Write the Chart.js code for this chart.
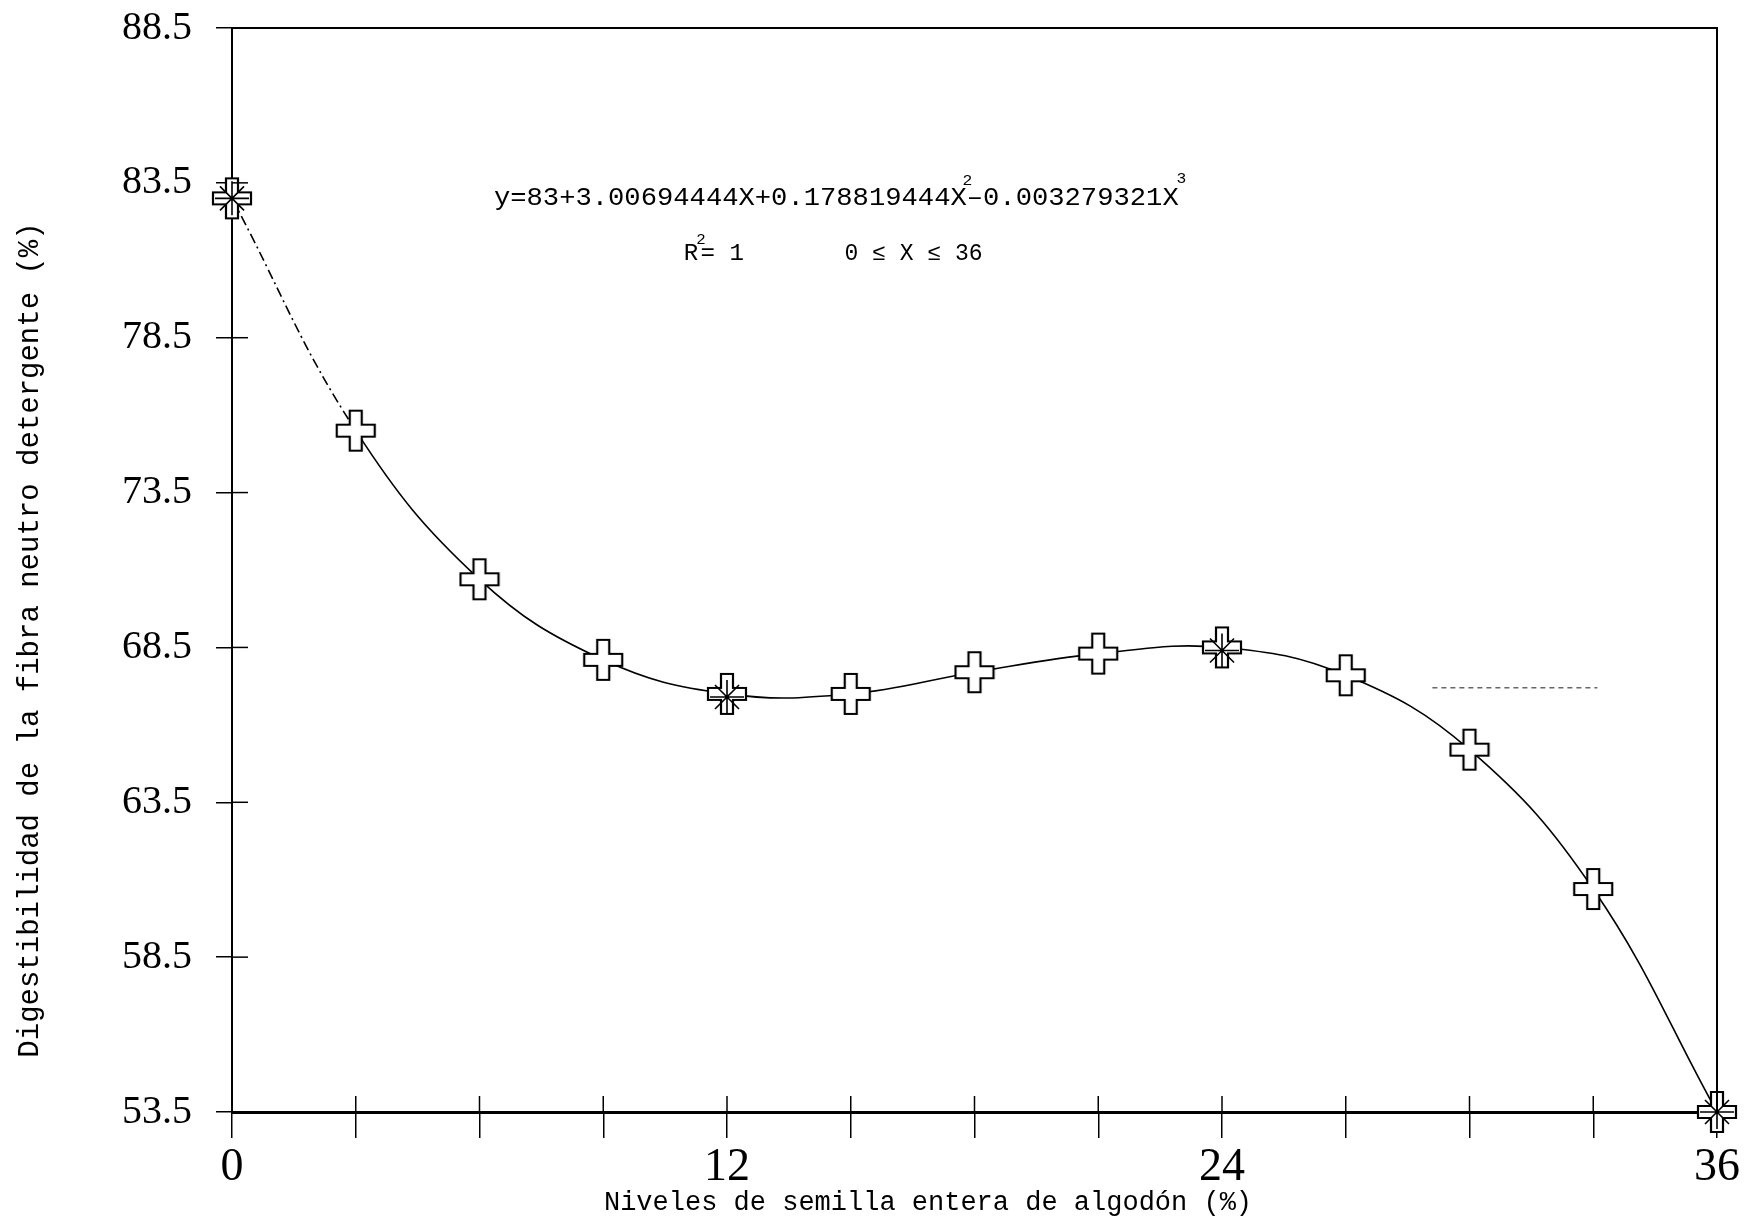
<!DOCTYPE html>
<html>
<head>
<meta charset="UTF-8">
<title>Digestibilidad FND</title>
<script src="https://cdn.jsdelivr.net/npm/chart.js"></script>
<style>
	html, body { margin: 0; padding: 0; background: #fff; }
	#chartArea { width: 1750px; height: 1219px; }
</style>
</head>
<body>
<div id="chartArea">
	<canvas id="myChart" width="1750" height="1219"></canvas>
</div>
<script>
// niveles de semilla (%) y digestibilidad
var niveles = [0, 3, 6, 9, 12, 15, 18, 21, 24, 27, 30, 33, 36];
var dfnEstimada = [83.0, 75.5, 70.7, 68.1, 67.0, 67.0, 67.7, 68.3, 68.5, 67.6, 65.2, 60.7, 53.5];
var nivelesObs = [0, 12, 24, 36];
var dfnObservada = [83.0, 66.9, 68.4, 53.5];
var yTicks = [53.5, 58.5, 63.5, 68.5, 73.5, 78.5, 83.5, 88.5];
var xTicks = [0, 3, 6, 9, 12, 15, 18, 21, 24, 27, 30, 33, 36];
var xEtiquetas = [0, 12, 24, 36];
// trazo suelto punteado a la derecha
var trazoX = [29.1, 33.1];
var trazoY = [67.2, 67.2];

function pares(xs, ys) {
	return xs.map(function(x, i) { return { x: x, y: ys[i] }; });
}

// cruz hueca como marcador
function cruzHueca() {
	var c = document.createElement('canvas');
	var w = 38, h = 40, t = 12;
	c.width = w + 4; c.height = h + 4;
	var g = c.getContext('2d');
	var ox = 2, oy = 2, a = (w - t) / 2, b = (h - t) / 2;
	g.beginPath();
	g.moveTo(ox + a, oy);
	g.lineTo(ox + a + t, oy);
	g.lineTo(ox + a + t, oy + b);
	g.lineTo(ox + w, oy + b);
	g.lineTo(ox + w, oy + b + t);
	g.lineTo(ox + a + t, oy + b + t);
	g.lineTo(ox + a + t, oy + h);
	g.lineTo(ox + a, oy + h);
	g.lineTo(ox + a, oy + b + t);
	g.lineTo(ox, oy + b + t);
	g.lineTo(ox, oy + b);
	g.lineTo(ox + a, oy + b);
	g.closePath();
	g.fillStyle = '#fff';
	g.fill();
	g.lineWidth = 2.2;
	g.strokeStyle = '#000';
	g.stroke();
	return c;
}

function texto(ctx, s, x, y, font, align) {
	ctx.save();
	ctx.font = font;
	ctx.textAlign = align || 'left';
	ctx.textBaseline = 'middle';
	ctx.fillText(s, x, y);
	ctx.restore();
}

var textos = {
	id: 'textos',
	afterDraw: function(chart) {
		var ctx = chart.ctx;
		var ca = chart.chartArea;
		var xs = chart.scales.x, ys = chart.scales.y;
		ctx.save();
		ctx.fillStyle = '#000';
		ctx.strokeStyle = '#000';

		// marco superior y derecho
		ctx.lineWidth = 2;
		ctx.beginPath();
		ctx.moveTo(ca.left, ca.top);
		ctx.lineTo(ca.right, ca.top);
		ctx.lineTo(ca.right, ca.bottom);
		ctx.stroke();

		// marcas hacia dentro
		ctx.lineWidth = 1.5;
		ys.ticks.forEach(function(t, i) {
			var p = ys.getPixelForTick(i);
			ctx.beginPath();
			ctx.moveTo(ca.left, p);
			ctx.lineTo(ca.left + 16, p);
			ctx.stroke();
		});
		xs.ticks.forEach(function(t, i) {
			var p = xs.getPixelForTick(i);
			ctx.beginPath();
			ctx.moveTo(p, ca.bottom);
			ctx.lineTo(p, ca.bottom - 16);
			ctx.stroke();
		});

		// titulo eje y
		ctx.save();
		ctx.translate(30, 640);
		ctx.rotate(-Math.PI / 2);
		texto(ctx, 'Digestibilidad de la fibra neutro detergente (%)', 0, 0, '29px "Liberation Mono"', 'center');
		ctx.restore();

		// titulo eje x
		texto(ctx, 'Niveles de semilla entera de algodón (%)', 928, 1203, '27px "Liberation Mono"', 'center');

		// ecuacion
		var fuente = '25px "Liberation Mono"';
		var sup = '15px "Liberation Mono"';
		var x0 = xs.getPixelForValue(6.35);
		var x1 = xs.getPixelForValue(22.95);
		var yEq = ys.getPixelForValue(83.0);
		var partes = ['y=83+3.00694444X+0.178819444X', '\u2013', '0.003279321X'];
		ctx.font = fuente;
		var total = 0;
		partes.forEach(function(p) { total += ctx.measureText(p).width; });
		var sx = (x1 - x0) / total;
		ctx.save();
		ctx.translate(x0, yEq);
		ctx.scale(sx, 1);
		var cur = 0;
		texto(ctx, partes[0], cur, 0, fuente);
		cur += ctx.measureText(partes[0]).width;
		texto(ctx, '2', cur - 4, -17, sup);
		texto(ctx, partes[1], cur, 0, fuente);
		cur += ctx.measureText(partes[1]).width;
		texto(ctx, partes[2], cur, 0, fuente);
		cur += ctx.measureText(partes[2]).width;
		texto(ctx, '3', cur - 2, -19, sup);
		ctx.restore();

		// R2 y dominio
		var yR = ys.getPixelForValue(81.2);
		ctx.save();
		ctx.translate(xs.getPixelForValue(10.95), yR);
		ctx.scale(1.05, 1);
		texto(ctx, 'R', 0, 0, '23px "Liberation Mono"');
		texto(ctx, '2', 12, -14, sup);
		texto(ctx, '= 1', 16, 0, '23px "Liberation Mono"');
		ctx.restore();
		texto(ctx, '0 \u2264 X \u2264 36', xs.getPixelForValue(14.85), yR, '23px "Liberation Mono"');

		ctx.restore();
	}
};

var ctx = document.getElementById('myChart').getContext('2d');
var myChart = new Chart(ctx, {
	type: 'line',
	data: {
		datasets: [{
			label: 'observado',
			data: pares(nivelesObs, dfnObservada),
			showLine: false,
			pointStyle: 'star',
			pointRadius: 17,
			pointBorderColor: '#000',
			pointBorderWidth: 1.6,
			clip: false,
			order: 0
		}, {
			label: 'estimado',
			data: pares(niveles, dfnEstimada),
			borderColor: '#000',
			borderWidth: 1.6,
			tension: 0.4,
			fill: false,
			pointStyle: cruzHueca(),
			pointRadius: 19,
			clip: false,
			segment: {
				borderDash: function(c) { return c.p0DataIndex === 0 ? [10, 4, 2, 4] : undefined; }
			},
			order: 1
		}, {
			label: 'trazo',
			data: pares(trazoX, trazoY),
			borderColor: '#666',
			borderWidth: 1.4,
			borderDash: [5, 4],
			pointRadius: 0,
			order: 2
		}]
	},
	options: {
		responsive: false,
		animation: false,
		devicePixelRatio: 1,
		layout: { padding: { top: 28, right: 33, left: 0, bottom: 0 } },
		plugins: {
			legend: { display: false },
			tooltip: { enabled: false }
		},
		scales: {
			x: {
				type: 'linear',
				min: 0,
				max: 36,
				afterBuildTicks: function(s) { s.ticks = xTicks.map(function(v) { return { value: v }; }); },
				afterFit: function(s) { s.height = 107; s.paddingLeft = 0; s.paddingRight = 0; },
				grid: { drawOnChartArea: false, drawTicks: true, tickLength: 26, color: '#000', lineWidth: 1.5 },
				border: { display: true, color: '#000', width: 3 },
				ticks: {
					autoSkip: false,
					maxRotation: 0,
					padding: 2,
					color: '#000',
					font: { family: '"Liberation Serif"', size: 46 },
					callback: function(v) { return xEtiquetas.indexOf(v) >= 0 ? String(v) : ''; }
				}
			},
			y: {
				min: 53.5,
				max: 88.5,
				afterBuildTicks: function(s) { s.ticks = yTicks.map(function(v) { return { value: v }; }); },
				afterFit: function(s) { s.width = 232; s.paddingTop = 0; s.paddingBottom = 0; },
				grid: { drawOnChartArea: false, drawTicks: true, tickLength: 16, color: '#000', lineWidth: 1.5 },
				border: { display: true, color: '#000', width: 2 },
				ticks: {
					padding: 24,
					color: '#000',
					font: { family: '"Liberation Serif"', size: 40 },
					callback: function(v) { return Number(v).toFixed(1); }
				}
			}
		}
	},
	plugins: [textos]
});
</script>
</body>
</html>
